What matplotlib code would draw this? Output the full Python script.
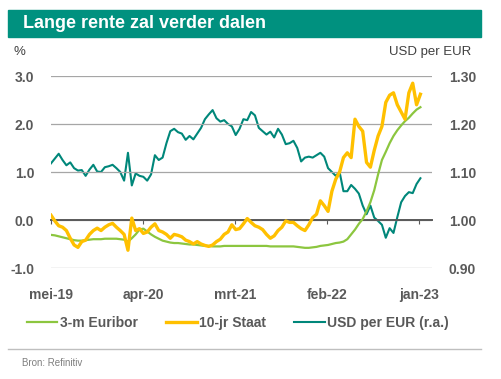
import numpy as np
import pandas as pd
import matplotlib
matplotlib.use("Agg")
import matplotlib.pyplot as plt
from matplotlib.patches import Rectangle
from matplotlib.lines import Line2D

plt.rcParams['font.family'] = ['Liberation Sans', 'DejaVu Sans']

# data (roughly every two weeks, mei-19 .. jan-23)
dates = pd.date_range('2019-05-29', '2023-01-27', periods=97)

euribor = [-0.31, -0.32, -0.34, -0.36, -0.38, -0.40, -0.42, -0.43, -0.43, -0.42,
           -0.41, -0.40, -0.40, -0.40, -0.39, -0.39, -0.39, -0.39, -0.40, -0.41,
           -0.45, -0.38, -0.30, -0.20, -0.18, -0.24, -0.30, -0.35, -0.39, -0.43,
           -0.45, -0.47, -0.48, -0.48, -0.49, -0.50, -0.51, -0.51, -0.52, -0.53,
           -0.54, -0.54, -0.55, -0.55, -0.55, -0.54, -0.54, -0.54, -0.54, -0.54,
           -0.54, -0.54, -0.54, -0.54, -0.54, -0.54, -0.54, -0.55, -0.55, -0.55,
           -0.55, -0.55, -0.55, -0.55, -0.56, -0.57, -0.58, -0.58, -0.57, -0.56,
           -0.54, -0.53, -0.52, -0.50, -0.48, -0.47, -0.45, -0.40, -0.30, -0.20,
           -0.08, 0.02, 0.18, 0.37, 0.62, 0.95, 1.25, 1.42, 1.60, 1.75,
           1.87, 1.97, 2.06, 2.13, 2.22, 2.30, 2.35]

staat10 = [0.10, -0.02, -0.12, -0.15, -0.22, -0.38, -0.52, -0.57, -0.45, -0.42,
           -0.30, -0.22, -0.17, -0.22, -0.15, -0.10, -0.07, -0.15, -0.22, -0.30,
           -0.63, 0.04, -0.22, -0.18, -0.28, -0.25, -0.15, -0.08, -0.22, -0.25,
           -0.30, -0.38, -0.30, -0.32, -0.35, -0.42, -0.45, -0.50, -0.45, -0.50,
           -0.53, -0.55, -0.52, -0.45, -0.40, -0.30, -0.25, -0.10, -0.20, -0.18,
           -0.08, 0.03, -0.05, -0.12, -0.15, -0.20, -0.30, -0.38, -0.33, -0.22,
           -0.15, -0.02, -0.05, -0.05, -0.12, -0.18, -0.22, -0.10, 0.05, 0.12,
           0.40, 0.30, 0.18, 0.60, 0.85, 1.00, 1.30, 1.40, 1.30, 2.10,
           1.95, 1.85, 1.20, 1.10, 1.45, 1.75, 1.95, 2.45, 2.60, 2.65,
           2.40, 2.25, 2.10, 2.65, 2.85, 2.40, 2.62]

usd_eur = [1.118, 1.128, 1.138, 1.125, 1.114, 1.120, 1.108, 1.103, 1.104, 1.092,
           1.105, 1.115, 1.101, 1.100, 1.110, 1.112, 1.115, 1.108, 1.100, 1.082,
           1.140, 1.072, 1.097, 1.092, 1.090, 1.082, 1.095, 1.135, 1.125, 1.130,
           1.160, 1.185, 1.190, 1.183, 1.180, 1.167, 1.175, 1.168, 1.180, 1.192,
           1.210, 1.220, 1.229, 1.212, 1.205, 1.208, 1.200, 1.195, 1.177, 1.190,
           1.210, 1.208, 1.225, 1.218, 1.192, 1.185, 1.178, 1.184, 1.172, 1.190,
           1.178, 1.158, 1.160, 1.165, 1.150, 1.122, 1.130, 1.132, 1.130, 1.135,
           1.140, 1.132, 1.108, 1.100, 1.092, 1.100, 1.060, 1.060, 1.073, 1.065,
           1.055, 1.030, 1.012, 1.030, 1.005, 0.998, 0.990, 0.963, 0.983, 0.973,
           1.006, 1.037, 1.050, 1.058, 1.056, 1.075, 1.087]

tick_dates = pd.to_datetime(['2019-05-29', '2020-04-27', '2021-03-26', '2022-02-23', '2023-01-22'])
tick_labels = ['mei-19', 'apr-20', 'mrt-21', 'feb-22', 'jan-23']

teal = '#00877A'
green = '#8CC63F'
yellow = '#FFC000'
txt = '#595959'

W, H = 501, 379
fig = plt.figure(figsize=(W / 100, H / 100), dpi=100)

# title bar
fig.patches.append(Rectangle((8 / W, 1 - 37 / H), 473 / W, 27 / H,
                             transform=fig.transFigure, color='#00917F', zorder=0))
fig.text(23 / W, 1 - 24 / H, 'Lange rente zal verder dalen', color='white',
         fontsize=13, fontweight='bold', va='center', ha='left')

ax = fig.add_axes([51 / W, 1 - 268 / H, 381 / W, 192 / H])
ax2 = ax.twinx()

ax.plot(dates, euribor, color=green, lw=1.6, zorder=3)
ax.plot(dates, staat10, color=yellow, lw=2.4, zorder=4)
ax2.plot(dates, usd_eur, color=teal, lw=1.5, zorder=5)

ax.set_ylim(-1.0, 3.0)
ax.set_yticks([-1, 0, 1, 2, 3])
ax.set_yticklabels(['-1.0', '0.0', '1.0', '2.0', '3.0'])
ax2.set_ylim(0.90, 1.30)
ax2.set_yticks([0.9, 1.0, 1.1, 1.2, 1.3])
ax2.set_yticklabels(['0.90', '1.00', '1.10', '1.20', '1.30'])

ax.set_xlim(dates[0], pd.Timestamp('2023-03-10'))
ax.set_xticks(tick_dates)
ax.set_xticklabels(tick_labels)

for a in (ax, ax2):
    for s in a.spines.values():
        s.set_visible(False)
ax.set_zorder(ax2.get_zorder() + 1)
ax.patch.set_visible(False)

ax.grid(axis='y', color='#A6A6A6', lw=0.9)
ax.set_axisbelow(True)
ax.spines['bottom'].set_visible(True)
ax.spines['bottom'].set_position(('data', 0))
ax.spines['bottom'].set_color('#595959')
ax.spines['bottom'].set_linewidth(1.4)
ax.spines['bottom'].set_zorder(2)
ax.tick_params(axis='x', length=3, color='#595959', pad=46,
               labelsize=10, labelcolor=txt)
ax.tick_params(axis='y', length=0, pad=12, labelsize=10, labelcolor=txt)
ax2.tick_params(axis='y', length=0, pad=12, labelsize=10, labelcolor=txt)
for lab in ax.get_xticklabels() + ax.get_yticklabels() + ax2.get_yticklabels():
    lab.set_fontweight('bold')

fig.text(13 / W, 1 - 52 / H, '%', fontsize=9.5, color='#404040', va='center')
fig.text(471 / W, 1 - 52 / H, 'USD per EUR', fontsize=9.5, color='#404040',
         va='center', ha='right')

handles = [Line2D([], [], color=green, lw=1.6),
           Line2D([], [], color=yellow, lw=2.4),
           Line2D([], [], color=teal, lw=1.5)]
leg = fig.legend(handles, ['3-m Euribor', '10-jr Staat', 'USD per EUR (r.a.)'],
                 loc='center', bbox_to_anchor=(238 / W, 1 - 323 / H), ncol=3,
                 frameon=False, handlelength=2.2, handletextpad=0.2,
                 columnspacing=2.0, fontsize=10)
for t in leg.get_texts():
    t.set_color(txt)
    t.set_fontweight('bold')

fig.add_artist(Line2D([8 / W, 481 / W], [1 - 349 / H, 1 - 349 / H],
                      transform=fig.transFigure, color='#BFBFBF', lw=1))
fig.text(22 / W, 1 - 363 / H, 'Bron: Refinitiv', fontsize=7, color='#7F7F7F',
         va='center')

fig.savefig('out.png', dpi=100)
